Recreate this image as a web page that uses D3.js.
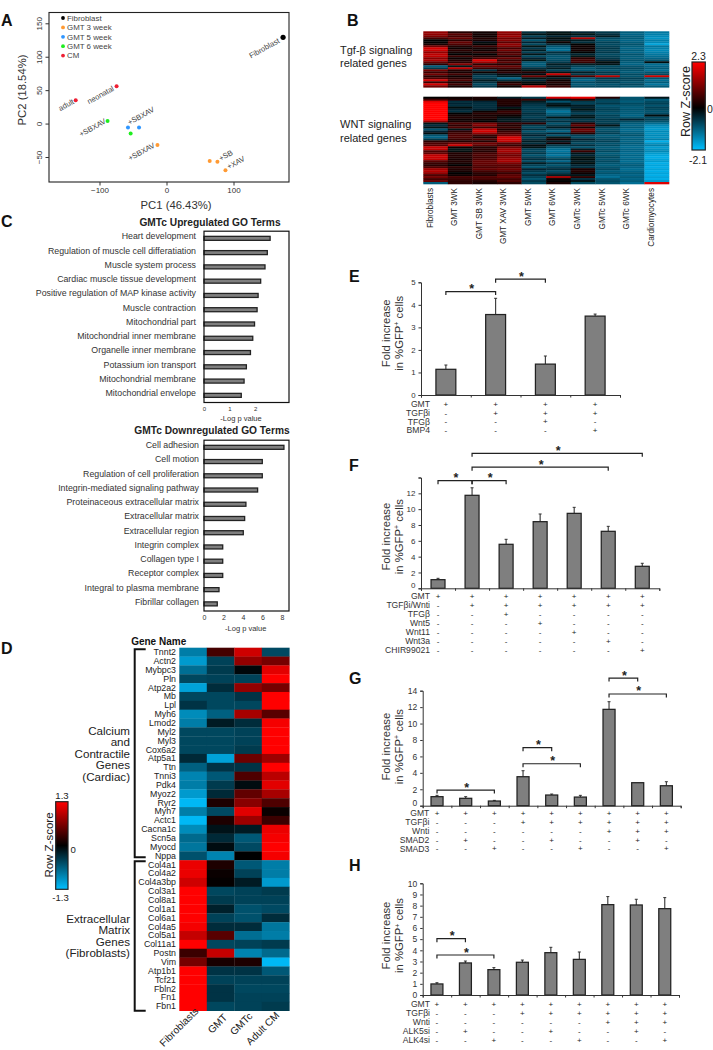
<!DOCTYPE html>
<html><head><meta charset="utf-8">
<script src="https://cdn.jsdelivr.net/npm/d3@7"></script>
<style>
html,body{margin:0;padding:0;background:#fff}
svg{display:block}
text{font-family:"Liberation Sans",Arial,sans-serif;fill:#222}
</style></head><body>
<svg id="fig" width="713" height="1050" viewBox="0 0 713 1050"></svg>
<script>
// ---------- Panel A data ----------
const legendNames = ["Fibroblast","GMT 3 week","GMT 5 week","GMT 6 week","CM"];
const legendColors = ["#000000","#ff9a33","#2f96ff","#1fee1f","#ee1f33"];
const pc1Values = [174,-74.5,-135.5,-88,-57.5,-41,-53.5,-13.5,64.5,76,88];
const pc2Values = [129,56,35,4,-6,-6,-15,-32,-56,-57,-70];
const pcaGroup = [0,4,4,3,2,2,3,1,1,1,1];
const pcaLabels = ["Fibroblast","neonatal","adult","+SBXAV","+SBXAV","","","+SBXAV","","+SB","+XAV"];
// ---------- Panel B data ----------
const bColumns = ["Fibroblasts","GMT 3WK","GMT SB 3WK","GMT XAV 3WK","GMT 5WK","GMT 6WK","GMTc 3WK","GMTc 5WK","GMTc 6WK","Cardiomyocytes"];
const tgfFibro = [1.3,1.3,1.1,0.6,0.0,0.0,0.2,1.0,1.9,1.8,1.3,1.7,1.7,1.2,1.5,0.9,0.4,-1.0,-0.6,1.0,0.5,1.0,0.4,0.7,1.9,0.5,1.9,1.0];
const tgfGmt3 = [0.3,0.8,0.6,0.9,0.4,0.9,0.7,0.3,0.1,0.4,0.2,0.0,0.5,0.1,0.3,0.4,1.2,-0.2,1.7,0.3,0.2,0.6,0.1,0.4,0.7,0.2,0.6,0.2];
const tgfSb3 = [0.1,0.2,0.1,0.3,0.2,-0.1,0.0,0.5,0.2,0.1,0.4,0.0,0.3,0.6,2.0,1.4,0.4,1.0,0.5,-0.5,0.1,-0.4,-0.7,-0.6,-0.3,-0.5,-0.8,-0.6];
const tgfXav3 = [1.3,1.2,1.4,1.0,1.2,0.8,1.3,1.1,0.6,1.0,0.6,0.8,0.4,0.9,0.5,0.8,0.3,0.9,0.6,0.2,0.4,-0.1,-0.3,-1.1,-0.5,0.2,0.5,0.1];
const tgfGmt5 = [-0.5,-0.2,-0.7,-0.3,-0.9,-0.4,-0.8,-0.2,-0.6,-0.3,-0.7,-0.2,-0.8,-0.4,-0.2,-0.9,-1.0,-0.9,-0.5,-0.2,0.3,-0.1,0.9,-0.2,-0.4,-0.1,0.0,1.6];
const tgfGmt6 = [-0.2,-0.1,-0.4,-0.1,-0.2,0.1,-0.4,-0.9,-1.1,-1.2,-0.5,-0.7,-0.9,-0.9,-0.8,-0.6,-0.3,-0.5,-0.3,-0.7,-0.2,1.8,0.2,-0.3,0.1,0.3,0.2,0.5];
const tgfGmtc3 = [-0.4,-0.2,-0.5,1.5,-0.3,-0.5,0.0,0.1,0.1,0.2,0.0,-0.4,-0.2,0.4,0.6,0.5,-0.3,-0.7,-0.9,-0.9,-0.3,-0.6,0.7,-0.9,-1.1,-0.8,-1.0,-0.8];
const tgfGmtc5 = [-0.6,-0.5,-0.3,-0.8,-0.9,-0.7,-0.8,-0.7,-0.6,-0.7,-0.6,-0.8,-0.7,-0.6,-0.4,-0.1,-0.2,-0.8,-0.7,-0.9,-0.6,-0.7,1.6,-0.6,-0.8,-0.7,-0.9,-0.8];
const tgfGmtc6 = [-1.0,-1.1,-1.0,-1.0,-1.1,-1.0,-0.9,-1.0,-1.1,-1.0,-1.1,-0.9,-1.0,-1.0,-0.9,-1.0,-1.1,-0.9,-0.8,-0.9,-1.0,-0.8,-0.9,-0.7,-0.8,-0.9,-0.8,-0.9];
const tgfCm = [-1.3,-1.4,-1.5,-1.6,-1.4,-1.5,-1.8,-1.3,-1.4,-1.5,-1.4,-1.3,-1.2,-1.1,-0.9,-0.1,-1.2,-1.1,-1.0,-1.2,-0.9,-0.8,1.8,-0.9,-1.2,-1.0,-1.3,-1.0];
const wntFibro = [-0.05,0.6,2.0,2.3,2.3,2.3,2.3,2.3,2.3,2.3,2.3,2.3,1.4,-0.2,-0.5,-0.2,-0.9,-0.4,-0.1,-0.9,-1.1,-0.6,0.4,0.7,0.8,1.8,1.7,0.7,0.9,1.7,1.8,1.7,0.8,0.5,0.4,0.7,1.4,1.6,1.3,0.7,1.0,0.6,0.9,-1.0];
const wntGmt3 = [0.1,0.3,-0.5,-0.4,-0.5,-0.1,-0.4,-0.5,0.0,0.2,0.3,0.1,0.2,0.7,0.4,0.7,-0.2,0.4,0.6,0.7,0.7,0.5,0.3,1.0,1.8,0.1,-0.2,-0.1,0.3,0.3,0.3,0.2,0.3,0.2,0.0,0.4,0.3,0.2,0.0,0.1,0.6,0.5,0.4,0.4];
const wntSb3 = [0.2,0.2,-0.4,-0.5,-0.5,-0.5,-0.4,0.1,0.4,0.2,0.3,0.1,0.0,1.0,1.2,0.6,1.7,1.9,1.3,0.5,0.3,0.7,0.3,1.0,0.8,0.3,0.4,0.3,0.6,0.7,0.6,0.7,0.9,0.9,0.8,0.7,0.9,0.6,0.4,0.3,0.7,0.6,0.3,0.2];
const wntXav3 = [-0.3,0.3,0.3,0.3,0.2,-0.2,0.1,0.5,0.4,0.1,-0.1,-0.3,-0.2,0.5,0.3,0.5,0.2,0.5,0.7,1.0,1.9,1.9,1.7,0.8,0.5,1.0,1.4,1.5,1.2,1.0,1.2,1.4,1.5,1.1,0.8,0.8,1.0,0.8,0.5,0.8,0.9,0.6,0.7,0.4];
const wntGmt5 = [-0.6,0.5,-0.3,-0.5,-0.6,-0.7,-0.6,-0.7,-0.5,-0.6,-0.7,-0.5,-0.4,0.4,-0.6,-0.8,-0.5,-0.9,-0.6,-0.4,-0.7,-0.5,-0.3,-0.5,-0.1,-0.2,-0.7,-0.8,-0.6,-0.9,-0.7,-0.5,-0.8,-0.3,-0.7,-0.9,-0.4,-0.6,-0.8,-0.5,-0.7,-0.9,-0.6,-0.8];
const wntGmt6 = [1.9,-0.2,-0.9,-0.3,-0.1,-0.6,-1.0,-1.3,-1.0,-0.9,-0.2,-0.8,-0.5,-0.9,-0.6,-0.3,-0.8,-1.1,-0.4,-0.9,-0.2,0.2,-0.3,0.1,-0.6,-0.9,-1.2,-1.3,-1.1,-1.3,-1.0,-0.7,-1.1,-0.6,-0.9,-0.7,-0.5,-0.8,-0.6,-0.3,1.4,0.1,0.0,0.2];
const wntGmtc3 = [2.1,0.4,-0.6,-0.7,-0.3,-0.4,-0.2,-0.5,-0.7,-0.3,-0.2,-0.6,-0.5,0.4,0.9,0.2,1.0,0.8,0.3,-0.7,-0.8,-0.4,-0.6,-0.8,-0.5,-0.9,-0.3,0.5,-0.2,-0.4,-0.2,-0.1,-0.3,-0.1,-0.4,-0.5,0.2,0.3,0.1,-0.2,0.4,-0.5,-0.2,-0.8];
const wntGmtc5 = [0.3,-0.7,-0.8,-0.6,-0.9,-0.8,-0.7,-0.8,-0.9,-0.7,-0.8,-0.6,-0.7,-0.6,-0.2,-0.7,-0.9,-0.8,-0.7,-1.0,-0.9,-0.8,-0.7,-0.9,-0.8,-1.0,-0.9,-0.8,-1.0,-0.9,-0.8,-0.9,-0.8,-0.9,-1.0,-0.9,-0.8,-1.0,-0.9,-1.1,-1.2,-0.9,-0.8,-0.9];
const wntGmtc6 = [-0.9,-0.9,-1.0,-0.8,-0.9,-1.0,-0.9,-1.0,-1.0,-1.1,-0.9,-0.4,-0.8,-1.0,-1.1,-1.0,-1.2,-1.1,-1.0,-0.9,-1.1,-1.0,-1.1,-1.0,-1.1,-1.2,-1.1,-1.1,-1.2,-1.1,-1.2,-1.1,-1.2,-1.1,-1.0,-1.1,-1.2,-1.1,-1.0,-1.1,-1.0,-1.1,-1.0,-1.2];
const wntCm = [-0.2,-1.0,-0.8,-0.7,-0.9,-0.7,-0.8,-0.9,-0.8,-0.1,-0.8,-0.7,-0.9,-1.2,-1.5,-1.6,-1.7,-1.5,-1.6,-1.5,-1.6,-1.4,-1.9,-1.6,-1.4,-1.7,-1.6,-1.5,-1.7,-1.8,-1.9,-1.8,-1.7,-1.9,-1.8,-1.9,-1.8,-1.9,-1.8,-1.9,-1.8,-1.9,-1.7,2.0];
// ---------- Panel C data ----------
const upTerms = ["Heart development","Regulation of muscle cell differatiation","Muscle system process","Cardiac muscle tissue development","Positive regulation of MAP kinase activity","Muscle contraction","Mitochondrial part","Mitochondrial inner membrane","Organelle inner membrane","Potassium ion transport","Mitochondrial membrane","Mitochondrial envelope"];
const upValues = [2.59,2.48,2.39,2.22,2.12,2.08,1.98,1.91,1.82,1.66,1.57,1.46];
const downTerms = ["Cell adhesion","Cell motion","Regulation of cell proliferation","Integrin-mediated signaling pathway","Proteinaceous extracellular matrix","Extracellular matrix","Extracellular region","Integrin complex","Collagen type I","Receptor complex","Integral to plasma membrane","Fibrillar collagen"];
const downValues = [8.2,5.98,5.98,5.5,4.3,4.17,4.03,1.92,1.92,1.92,1.54,1.36];
// ---------- Panel D data ----------
const dGenes = ["Tnnt2","Actn2","Mybpc3","Pln","Atp2a2","Mb","Lpl","Myh6","Lmod2","Myl2","Myl3","Cox6a2","Atp5a1","Ttn","Tnni3","Pdk4","Myoz2","Ryr2","Myh7","Actc1","Cacna1c","Scn5a","Myocd","Nppa","Col4a1","Col4a2","Col4a3bp","Col3a1","Col8a1","Col1a1","Col6a1","Col4a5","Col5a1","Col11a1","Postn","Vim","Atp1b1","Tcf21","Fbln2","Fn1","Fbn1"];
const dColumns = ["Fibroblasts","GMT","GMTc","Adult CM"];
const dFibro = [-0.85,-1.05,-0.75,-0.48,-1.1,-0.48,-0.35,-0.95,-0.85,-0.48,-0.48,-0.48,-0.28,-0.65,-0.9,-0.85,-1.05,-1.25,-0.85,-1.25,-0.95,-0.72,-0.8,-0.55,1.2,1.2,1.05,1.3,1.3,1.3,1.3,1.25,1.0,1.3,0.3,0.6,1.3,1.3,1.3,1.3,1.3];
const dGmt = [0.35,-0.45,-0.4,-0.45,-0.3,-0.48,-0.48,-0.65,-0.18,-0.48,-0.48,-0.48,-1.1,-0.35,-0.6,-0.4,-0.28,0.15,-0.5,0.15,-0.12,-0.28,-0.08,-0.9,0.15,0.05,0.02,-0.48,-0.4,-0.22,-0.45,-0.3,0.45,-0.48,1.0,0.12,-0.35,-0.45,-0.35,-0.35,-0.48];
const dGmtc = [1.05,0.75,-0.05,-0.45,0.75,-0.35,-0.48,0.85,-0.3,-0.45,-0.45,-0.4,0.55,-0.35,0.4,-0.08,0.5,0.7,1.15,0.8,-0.18,-0.6,-0.5,0.0,-0.6,-0.45,-0.18,-0.45,-0.45,-0.55,-0.55,-0.3,-0.75,-0.45,-0.9,0.15,-0.35,-0.45,-0.48,-0.45,-0.45];
const dAdult = [-0.5,0.6,1.15,1.3,0.6,1.3,1.3,0.45,1.25,1.3,1.3,1.3,0.8,1.3,0.95,1.15,0.85,0.4,0.05,0.3,1.2,1.25,1.3,1.25,-0.85,-0.85,-1.05,-0.4,-0.45,-0.5,-0.3,-0.8,-0.85,-0.4,-0.72,-1.25,-0.6,-0.45,-0.48,-0.45,-0.4];
// ---------- Panels E-H data ----------
const eValues = [1.14,3.57,1.37,3.5];
const eErrTops = [1.33,4.29,1.73,3.59];
const eRowNames = ["GMT","TGFβi","TFGβ","BMP4"];
const eRowMarks = ["++++","-+++","--+-","---+"];
const eBrackets = [[0,1,4.59],[1,2,5.14]];
const fValues = [1.09,11.75,5.56,8.42,9.47,7.2,2.78];
const fErrTops = [1.26,12.7,6.19,9.39,10.23,7.83,3.16];
const fRowNames = ["GMT","TGFβi/Wnti","TFGβ","Wnt5","Wnt11","Wnt3a","CHIR99021"];
const fRowMarks = ["+++++++","-++++++","--+----","---+---","----+--","-----+-","------+"];
const fBrackets = [[0,1,13.6],[1,2,13.6],[1,5,15.3],[1,6,17.05]];
const gValues = [1.1,0.9,0.57,3.53,1.3,1.05,11.73,2.8,2.43];
const gErrTops = [1.26,1.1,0.65,4.26,1.42,1.26,12.66,2.8,2.92];
const gRowNames = ["GMT","TGFβi","Wnti","SMAD2","SMAD3"];
const gRowMarks = ["+++++++++","---++++++","------+++","-+--+--+-","--+--+--+"];
const gBrackets = [[0,2,1.9],[3,4,7.06],[3,5,5.11],[6,7,15.54],[6,8,13.6]];
const hValues = [0.99,2.87,2.27,2.93,3.79,3.19,8.09,8.06,7.73];
const hErrTops = [1.1,3.04,2.45,3.13,4.27,3.85,8.81,8.57,8.72];
const hRowNames = ["GMT","TGFβi","Wnti","ALK5si","ALK4si"];
const hRowMarks = ["+++++++++","---++++++","------+++","-+--+--+-","--+--+--+"];
const hBrackets = [[0,1,5.04],[0,2,3.58]];

const svg = d3.select("#fig");
const defs = svg.append("defs");
const ink = "#222";
defs.append("filter").attr("id","soft").attr("x","-2%").attr("y","-2%").attr("width","104%").attr("height","104%")
  .append("feGaussianBlur").attr("stdDeviation","0.5 0.45");

function label(g,x,y,str,o={}){
  const t = g.append("text").attr("x",x).attr("y",y).text(str)
    .attr("font-size",o.size||9).attr("text-anchor",o.anchor||"start");
  if(o.bold) t.attr("font-weight","bold");
  if(o.fill) t.style("fill",o.fill);
  if(o.rotate!==undefined) t.attr("transform",`rotate(${o.rotate} ${x} ${y})`);
  return t;
}
function styleAxis(sel,size,color){
  sel.selectAll("path,line").attr("stroke",color||ink).attr("stroke-width",1);
  sel.selectAll("text").attr("font-size",size).style("font-family",'"Liberation Sans",Arial,sans-serif').style("fill",color||ink);
  sel.attr("font-family",null);
}
// panel letters
[["A",1,26],["B",347,26],["C",1,227],["D",1,654],["E",349,282],["F",349,471],["G",349,684],["H",349,871]]
  .forEach(([s,x,y])=>label(svg,x,y,s,{size:16,bold:true,fill:"#111"}));

// ---------- A ----------
(function(){
  const g = svg.append("g");
  const x = d3.scaleLinear().domain([-100,100]).range([99.5,233.5]);
  const y = d3.scaleLinear().domain([-50,150]).range([157,23.3]);
  g.append("rect").attr("x",49).attr("y",12.5).attr("width",240).attr("height",169.5)
    .attr("fill","none").attr("stroke",ink).attr("stroke-width",1.1);
  const ax = g.append("g").attr("transform","translate(0,182)")
    .call(d3.axisBottom(x).tickValues([-100,0,100]).tickSize(3.5).tickPadding(2));
  ax.select(".domain").remove(); styleAxis(ax,8,"#333");
  const ay = g.append("g").attr("transform","translate(49,0)")
    .call(d3.axisLeft(y).tickValues([-50,0,50,100,150]).tickSize(3.5));
  ay.select(".domain").remove(); styleAxis(ay,8,"#333");
  ay.selectAll("text").attr("transform","rotate(-90)").attr("x",0).attr("y",-7).attr("dy",0).attr("text-anchor","middle");
  label(g,176,209,"PC1 (46.43%)",{size:11.3,anchor:"middle",fill:"#333"});
  label(g,26,90,"PC2 (18.54%)",{size:11.3,anchor:"middle",rotate:-90,fill:"#333"});
  legendNames.forEach((n,i)=>{
    const yy = 18+i*9.4;
    g.append("circle").attr("cx",63).attr("cy",yy).attr("r",1.9).attr("fill",legendColors[i]);
    label(g,67,yy+2.7,n,{size:7.9,fill:"#444"});
  });
  const offsets = [[-3,5],[-2,4],[-1,3],[-1,2],[27,-16.5],[0,0],[0,0],[-2,2],[0,0],[16,-7.5],[20,-10]];
  pc1Values.forEach((v,i)=>{
    const cx=x(v), cy=y(pc2Values[i]);
    g.append("circle").attr("cx",cx).attr("cy",cy).attr("r",i===0?2.6:2).attr("fill",legendColors[pcaGroup[i]]);
    if(pcaLabels[i]) label(g,cx+offsets[i][0],cy+offsets[i][1],pcaLabels[i],{size:7.6,anchor:"end",rotate:-29,fill:"#444"});
  });
})();

// ---------- B ----------
(function(){
  const g = svg.append("g");
  const hg = g.append("g").attr("filter","url(#soft)");
  const color = d3.scaleLinear().domain([-2.1,0,2.3]).range(["#00bfff","#000000","#ff0000"]).clamp(true);
  const x = d3.scaleBand().domain(bColumns).range([423.3,669]);
  function heat(cols,y0,y1){
    const y = d3.scaleBand().domain(d3.range(cols[0].length)).range([y0,y1]);
    cols.forEach((c,ci)=>{
      hg.selectAll(null).data(c).join("rect")
        .attr("x",x(bColumns[ci])).attr("width",x.bandwidth()+.3)
        .attr("y",(d,i)=>y(i)).attr("height",y.bandwidth()+.3)
        .attr("fill",d=>color(d));
    });
  }
  heat([tgfFibro,tgfGmt3,tgfSb3,tgfXav3,tgfGmt5,tgfGmt6,tgfGmtc3,tgfGmtc5,tgfGmtc6,tgfCm],31.3,87.3);
  heat([wntFibro,wntGmt3,wntSb3,wntXav3,wntGmt5,wntGmt6,wntGmtc3,wntGmtc5,wntGmtc6,wntCm],96.7,184);
  bColumns.forEach(c=>label(g,x(c)+x.bandwidth()/2-3,188,c,{size:8.2,anchor:"end",rotate:-90}));
  label(g,340,54,"Tgf-β signaling",{size:11});
  label(g,340,67,"related genes",{size:11});
  label(g,340,128,"WNT signaling",{size:11});
  label(g,340,142,"related genes",{size:11});
  // colour bar
  const gid="bGrad";
  const gr=defs.append("linearGradient").attr("id",gid).attr("x1",0).attr("x2",0).attr("y1",1).attr("y2",0);
  [-2.1,0,2.3].forEach(v=>gr.append("stop").attr("offset",(v+2.1)/4.4).attr("stop-color",color(v)));
  g.append("rect").attr("x",692).attr("y",62).attr("width",13.3).attr("height",88).attr("fill",`url(#${gid})`).attr("stroke",ink).attr("stroke-width",1.2);
  label(g,698.5,59.5,"2.3",{size:10.5,anchor:"middle"});
  label(g,698,164,"-2.1",{size:10.5,anchor:"middle"});
  label(g,707,113,"0",{size:10.5});
  label(g,690,101.5,"Row Z-score",{size:12.5,anchor:"middle",rotate:-90});
})();

// ---------- C ----------
function goPanel(terms,values,o){
  const g = svg.append("g");
  const x = d3.scaleLinear().domain([0,o.max]).range([204,289]);
  const y = d3.scaleBand().domain(terms).range([o.y0,o.y1]);
  const bh = 4;
  g.selectAll(null).data(values).join("rect")
    .attr("x",x(0)).attr("width",d=>x(d)-x(0))
    .attr("y",(d,i)=>y(terms[i])+y.bandwidth()/2-bh/2).attr("height",bh)
    .attr("fill","#7f7f7f").attr("stroke",ink).attr("stroke-width",1.3);
  g.append("rect").attr("x",204).attr("y",o.y0).attr("width",85).attr("height",o.y1-o.y0)
    .attr("fill","none").attr("stroke","#111").attr("stroke-width",1.2);
  terms.forEach(t=>label(g,o.lx,y(t)+y.bandwidth()/2+.9,t,{size:8.8,anchor:"end",fill:"#333"}));
  const a = g.append("g").attr("transform",`translate(0,${o.y1})`)
    .call(d3.axisBottom(x).tickValues(o.ticks).tickSize(0).tickPadding(4).tickFormat(d3.format("d")));
  a.select(".domain").remove(); styleAxis(a,o.tickSize,"#333");
  label(g,o.ax,o.ay,"-Log p value",{size:7.5,anchor:"middle",fill:"#333"});
  label(g,o.tx,o.ty,o.title,{size:10.2,bold:true,anchor:"middle",fill:"#222"});
}
goPanel(upTerms,upValues,{max:3.33,y0:231.2,y1:402.5,ticks:[0,1,2],tickSize:6,lx:196,ax:241,ay:420.5,tx:210,ty:225.5,title:"GMTc Upregulated GO Terms"});
goPanel(downTerms,downValues,{max:8.72,y0:440.2,y1:611,ticks:[0,2,4,6,8],tickSize:7,lx:199,ax:245.7,ay:631,tx:212,ty:434,title:"GMTc Downregulated GO Terms"});

// ---------- D ----------
(function(){
  const g = svg.append("g");
  const color = d3.scaleLinear().domain([-1.3,0,1.3]).range(["#00bfff","#000000","#ff0000"]).clamp(true);
  const x = d3.scaleBand().domain(dColumns).range([179.3,289.3]);
  const y = d3.scaleBand().domain(dGenes).range([647.7,1010.7]);
  [dFibro,dGmt,dGmtc,dAdult].forEach((c,ci)=>{
    g.selectAll(null).data(c).join("rect")
      .attr("x",x(dColumns[ci])).attr("width",x.bandwidth()+.3)
      .attr("y",(d,i)=>y(dGenes[i])).attr("height",y.bandwidth()+.3)
      .attr("fill",d=>color(d));
  });
  dGenes.forEach(n=>label(g,176,y(n)+y.bandwidth()/2+3,n,{size:8.8,anchor:"end"}));
  label(g,158.7,645,"Gene Name",{size:10,bold:true,anchor:"middle",fill:"#111"});
  const ends=[[199,1012],[228,1018],[253,1017],[280,1016]];
  dColumns.forEach((c,i)=>label(g,ends[i][0],ends[i][1],c,{size:10.2,anchor:"end",rotate:-45}));
  const brack=(a,b)=>{g.append("path").attr("d",d3.line()([[145.7,a],[134.7,a],[134.7,b],[145.7,b]]))
    .attr("fill","none").attr("stroke","#111").attr("stroke-width",2);};
  brack(y("Tnnt2")+1.5,y("Nppa")+y.bandwidth()-3);
  brack(y("Col4a1")+1,y("Fbn1")+y.bandwidth());
  ["Calcium","and","Contractile","Genes","(Cardiac)"].forEach((s,i)=>label(g,130,735+i*11.4,s,{size:11.6,anchor:"end"}));
  ["Extracellular","Matrix","Genes","(Fibroblasts)"].forEach((s,i)=>label(g,130,923+i*11.4,s,{size:11.6,anchor:"end"}));
  const gr=defs.append("linearGradient").attr("id","dGrad").attr("x1",0).attr("x2",0).attr("y1",1).attr("y2",0);
  [-1.3,0,1.3].forEach(v=>gr.append("stop").attr("offset",(v+1.3)/2.6).attr("stop-color",color(v)));
  g.append("rect").attr("x",55.7).attr("y",801.7).attr("width",12.3).attr("height",87.6).attr("fill","url(#dGrad)").attr("stroke",ink).attr("stroke-width",1.2);
  label(g,62,799,"1.3",{size:9.6,anchor:"middle"});
  label(g,60.5,901,"-1.3",{size:9.6,anchor:"middle"});
  label(g,70.5,852.5,"0",{size:9.6});
  label(g,53,845,"Row Z-score",{size:11.5,anchor:"middle",rotate:-90});
})();

// ---------- E-H ----------
function barPanel(o){
  const g = svg.append("g");
  const idx = d3.range(o.values.length);
  const x = d3.scaleBand().domain(idx).range([o.x0,o.x1]).paddingInner(o.pad).paddingOuter(o.pad/2);
  const y = d3.scaleLinear().domain([0,o.max]).range([o.yb,o.yt]);
  const edge = d3.scaleLinear().domain([0,idx.length]).range([o.x0,o.x1]);
  idx.forEach(i=>{
    const cx=x(i)+x.bandwidth()/2;
    if(o.err[i]>o.values[i]){
      g.append("line").attr("x1",cx).attr("x2",cx).attr("y1",y(o.values[i])).attr("y2",y(o.err[i])).attr("stroke","#333").attr("stroke-width",1.1);
      g.append("line").attr("x1",cx-1.5).attr("x2",cx+1.5).attr("y1",y(o.err[i])).attr("y2",y(o.err[i])).attr("stroke","#333").attr("stroke-width",1);
    }
  });
  g.selectAll(null).data(o.values).join("rect")
    .attr("x",(d,i)=>x(i)).attr("width",x.bandwidth())
    .attr("y",d=>y(d)).attr("height",d=>y(0)-y(d))
    .attr("fill","#7f7f7f").attr("stroke",ink).attr("stroke-width",1.25);
  const ay = g.append("g").attr("transform",`translate(${o.x0},0)`)
    .call(d3.axisLeft(y).tickValues(d3.range(0,o.max+.01,o.step)).tickSize(2.5).tickPadding(3)
      .tickFormat(o.skipTop?(d=>d===o.max?"":d):(d=>d)));
  styleAxis(ay,o.tickFont,"#333");
  if(o.zeroUp) ay.selectAll(".tick text").filter(d=>d===0).attr("dy","-0.05em");
  const ax = g.append("g").attr("transform",`translate(0,${o.yb})`)
    .call(d3.axisBottom(edge).tickValues(d3.range(idx.length+1)).tickSize(2.5).tickFormat(""));
  styleAxis(ax,7,"#333");
  label(g,390,o.labelY,"Fold increase",{size:11.3,anchor:"middle",rotate:-90,fill:"#333"});
  const t = label(g,403,o.labelY,"",{size:11.3,anchor:"middle",rotate:-90,fill:"#333"});
  t.append("tspan").text("in %GFP");
  t.append("tspan").text("+").attr("font-size",7).attr("dy",-3.5);
  t.append("tspan").text(" cells").attr("dy",3.5);
  o.rowNames.forEach((n,r)=>{
    const yy=o.rowY+r*o.rowStep;
    label(g,o.rowX,yy+2.9,n,{size:8.6,anchor:"end",fill:"#333"});
    [...o.rowMarks[r]].forEach((m,i)=>label(g,x(i)+x.bandwidth()/2,yy+2.7,m,{size:8,anchor:"middle",fill:"#222"}));
  });
  o.brackets.forEach(([a,b,lv])=>{
    const xa=x(a)+x.bandwidth()/2, xb=x(b)+x.bandwidth()/2, yy=y(lv);
    g.append("path").attr("d",d3.line()([[xa,yy+3.5],[xa,yy],[xb,yy],[xb,yy+3.5]])).attr("fill","none").attr("stroke",ink).attr("stroke-width",1.2);
    label(g,(xa+xb)/2+1,yy+1.5,"*",{size:12.5,bold:true,anchor:"middle"});
  });
}
barPanel({values:eValues,err:eErrTops,rowNames:eRowNames,rowMarks:eRowMarks,brackets:eBrackets,
  x0:421,x1:620,pad:.6,yb:395,yt:282.3,max:5,step:1,tickFont:7.8,labelY:333.3,rowY:404,rowStep:8.8,rowX:430});
barPanel({values:fValues,err:fErrTops,rowNames:fRowNames,rowMarks:fRowMarks,brackets:fBrackets,
  x0:421,x1:659.3,pad:.59,yb:588.3,yt:477.5,max:14,step:2,tickFont:8,skipTop:true,zeroUp:true,labelY:536.7,rowY:596,rowStep:9.05,rowX:430});
barPanel({values:gValues,err:gErrTops,rowNames:gRowNames,rowMarks:gRowMarks,brackets:gBrackets,
  x0:422.7,x1:680.7,pad:.58,yb:805.7,yt:690.7,max:14,step:2,tickFont:8.5,zeroUp:true,labelY:746.7,rowY:813.3,rowStep:8.85,rowX:429.3});
barPanel({values:hValues,err:hErrTops,rowNames:hRowNames,rowMarks:hRowMarks,brackets:hBrackets,
  x0:422.7,x1:679,pad:.58,yb:995,yt:883.3,max:10,step:1,tickFont:8.5,labelY:935.5,rowY:1004,rowStep:9,rowX:430});
</script>
</body></html>
